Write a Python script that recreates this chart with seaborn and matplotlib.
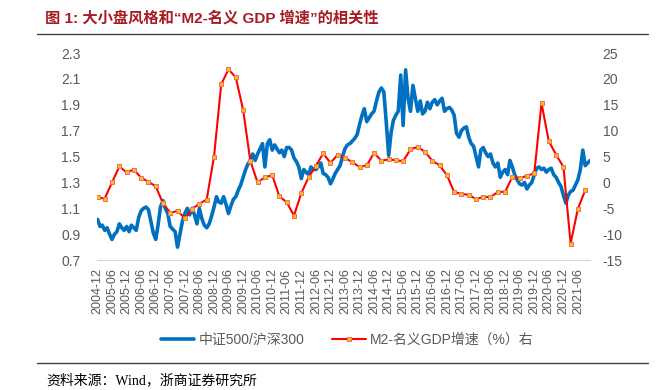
import numpy as np
import pandas as pd
import matplotlib
matplotlib.use("Agg")
import matplotlib.pyplot as plt
import seaborn as sns
from matplotlib.lines import Line2D

# 中证500/沪深300, monthly from 2004-12 (left axis)
ratio_values = [
    1.015, 0.96, 0.97, 0.93, 0.95, 0.90, 0.86, 0.90, 0.92, 0.98, 0.95, 0.93,
    0.96, 0.92, 0.97, 0.95, 0.93, 1.03, 1.08, 1.10, 1.11, 1.09, 1.00, 0.91,
    0.86, 0.98, 1.11, 1.16, 1.10, 1.06, 0.96, 0.94, 0.92, 0.80, 0.90, 1.00,
    1.06, 1.10, 1.05, 1.10, 1.05, 0.98, 1.10, 1.02, 0.97, 0.95, 0.98, 1.04,
    1.11, 1.19, 1.15, 1.14, 1.19, 1.13, 1.06, 1.12, 1.17, 1.19, 1.24, 1.28,
    1.34, 1.40, 1.44, 1.47, 1.52, 1.47, 1.52, 1.56, 1.60, 1.42, 1.60, 1.63,
    1.55, 1.59, 1.56, 1.53, 1.55, 1.50, 1.57, 1.57, 1.55, 1.49, 1.46, 1.42,
    1.33, 1.40, 1.38, 1.36, 1.42, 1.40, 1.40, 1.42, 1.45, 1.37, 1.36, 1.34,
    1.29, 1.33, 1.37, 1.40, 1.43, 1.50, 1.56, 1.59, 1.60, 1.62, 1.64, 1.67,
    1.75, 1.82, 1.87, 1.77, 1.80, 1.83, 1.85, 1.93, 2.00, 2.03, 2.00, 1.77,
    1.51, 1.69, 1.78, 1.82, 1.85, 2.13, 1.74, 2.17, 1.95, 1.85, 2.05, 1.95,
    1.85, 1.93, 1.83, 1.85, 1.92, 1.87, 1.92, 1.94, 1.90, 1.93, 1.95, 1.85,
    1.87, 1.88, 1.86, 1.82, 1.68, 1.65, 1.70, 1.72, 1.73, 1.65, 1.60, 1.58,
    1.50, 1.42, 1.55, 1.57, 1.53, 1.50, 1.52, 1.45, 1.42, 1.45, 1.34, 1.38,
    1.40, 1.36, 1.47, 1.42, 1.36, 1.32, 1.29, 1.28, 1.30, 1.25, 1.28, 1.30,
    1.36, 1.41, 1.42, 1.40, 1.41, 1.38, 1.40, 1.41, 1.36, 1.34, 1.30, 1.27,
    1.20, 1.14, 1.20, 1.23, 1.24, 1.28, 1.32, 1.40, 1.55, 1.43, 1.45, 1.47,
]

# M2 - 名义GDP 增速 (%), quarterly from 2004-12 (right axis)
m2_gdp_values = [
    -2.9,
    -3.1, 0.0, 3.1, 1.95,
    2.5, 0.9, 0.15, -0.76,
    -4.0, -5.85, -5.5, -6.9,
    -5.1, -4.1, -3.3, 5.0,
    18.95, 21.85, 20.3, 14.0,
    4.2, 0.0, 1.0, 1.4,
    -2.7, -3.8, -6.4, -2.05,
    1.0, 3.2, 5.6, 3.8,
    5.35, 4.8, 3.9, 3.0,
    3.3, 5.7, 4.2, 4.45,
    4.3, 4.1, 6.4, 6.85,
    5.9, 4.2, 3.3, 1.4,
    -1.85, -2.2, -2.4, -3.2,
    -2.8, -2.8, -1.85, -1.8,
    1.1, 0.8, 1.3, 1.75,
    15.3, 8.0, 5.35, 3.0,
    -11.8, -5.1, -1.5,
]

ratio_dates = pd.date_range("2004-12-31", periods=len(ratio_values), freq="ME")
m2_dates = pd.date_range("2004-12-31", periods=len(m2_gdp_values), freq="QE")
tick_dates = pd.date_range("2004-12-31", "2021-06-30", freq="6ME")
tick_labels = [d.strftime("%Y-%m") for d in tick_dates]

left_ticks = [0.7, 0.9, 1.1, 1.3, 1.5, 1.7, 1.9, 2.1, 2.3]
right_ticks = [-15, -10, -5, 0, 5, 10, 15, 20, 25]

title = "图 1: 大小盘风格和“M2-名义 GDP 增速”的相关性"
series_names = ["中证500/沪深300", "M2-名义GDP增速（%）右"]
source = "资料来源：Wind，浙商证券研究所"

sns.set_style("white")
plt.rcParams["font.family"] = ["Liberation Sans", "Noto Sans CJK SC", "DejaVu Sans"]

blue = "#0070C0"
red = "#FF0000"
grey = "#595959"
marker_style = dict(marker="s", markersize=3.2, markerfacecolor="#FFC000",
                    markeredgecolor="#E4706C", markeredgewidth=0.7)

fig = plt.figure(figsize=(6.69, 3.9), dpi=100)
ax = fig.add_axes([0.145, 0.333, 0.737, 0.531])
sns.lineplot(x=ratio_dates, y=ratio_values, ax=ax, color=blue, lw=2.6)

ax2 = ax.twinx()
sns.lineplot(x=m2_dates, y=m2_gdp_values, ax=ax2, color=red, lw=1.5, **marker_style)

ax.set_xlim(pd.Timestamp("2004-12-24"), ratio_dates[-1])
ax.set_ylim(0.7, 2.3)
ax2.set_ylim(-15, 25)

ax.set_xticks(tick_dates)
ax.set_xticklabels(tick_labels, rotation=90)
ax.tick_params(axis="x", length=4, color="#D9D9D9", labelsize=9, labelcolor=grey, pad=2)

ax.set_yticks(left_ticks)
ax.set_yticklabels([f"{v:.1f}" for v in left_ticks])
ax.tick_params(axis="y", length=0, labelsize=10, labelcolor=grey, pad=12)
ax2.set_yticks(right_ticks)
ax2.set_yticklabels([str(v) for v in right_ticks])
ax2.tick_params(axis="y", length=0, labelsize=10, labelcolor=grey, pad=9)

for a in (ax, ax2):
    a.set_xlabel("")
    a.set_ylabel("")
    for s in a.spines.values():
        s.set_visible(False)
ax.spines["bottom"].set_visible(True)
ax.spines["bottom"].set_color("#D9D9D9")

handles = [
    Line2D([], [], color=blue, lw=2.6),
    Line2D([], [], color=red, lw=1.5, **marker_style),
]
fig.legend(handles, series_names, loc="center", bbox_to_anchor=(0.519, 0.128), ncol=2,
           frameon=False, fontsize=10, handlelength=2.4, handletextpad=0.3,
           columnspacing=2.0, labelcolor=grey)

fig.text(0.067, 0.954, title, fontsize=11, fontweight="bold", color="#A61C23", va="center")
fig.add_artist(Line2D([0.055, 0.969], [0.913, 0.913], color="#404040", lw=1))
fig.add_artist(Line2D([0.055, 0.969], [0.069, 0.069], color="#404040", lw=1))
fig.text(0.07, 0.026, source, fontsize=10, color="black", va="center",
         family=["Liberation Serif", "Noto Sans CJK SC"])

fig.savefig("out.png", dpi=100)
